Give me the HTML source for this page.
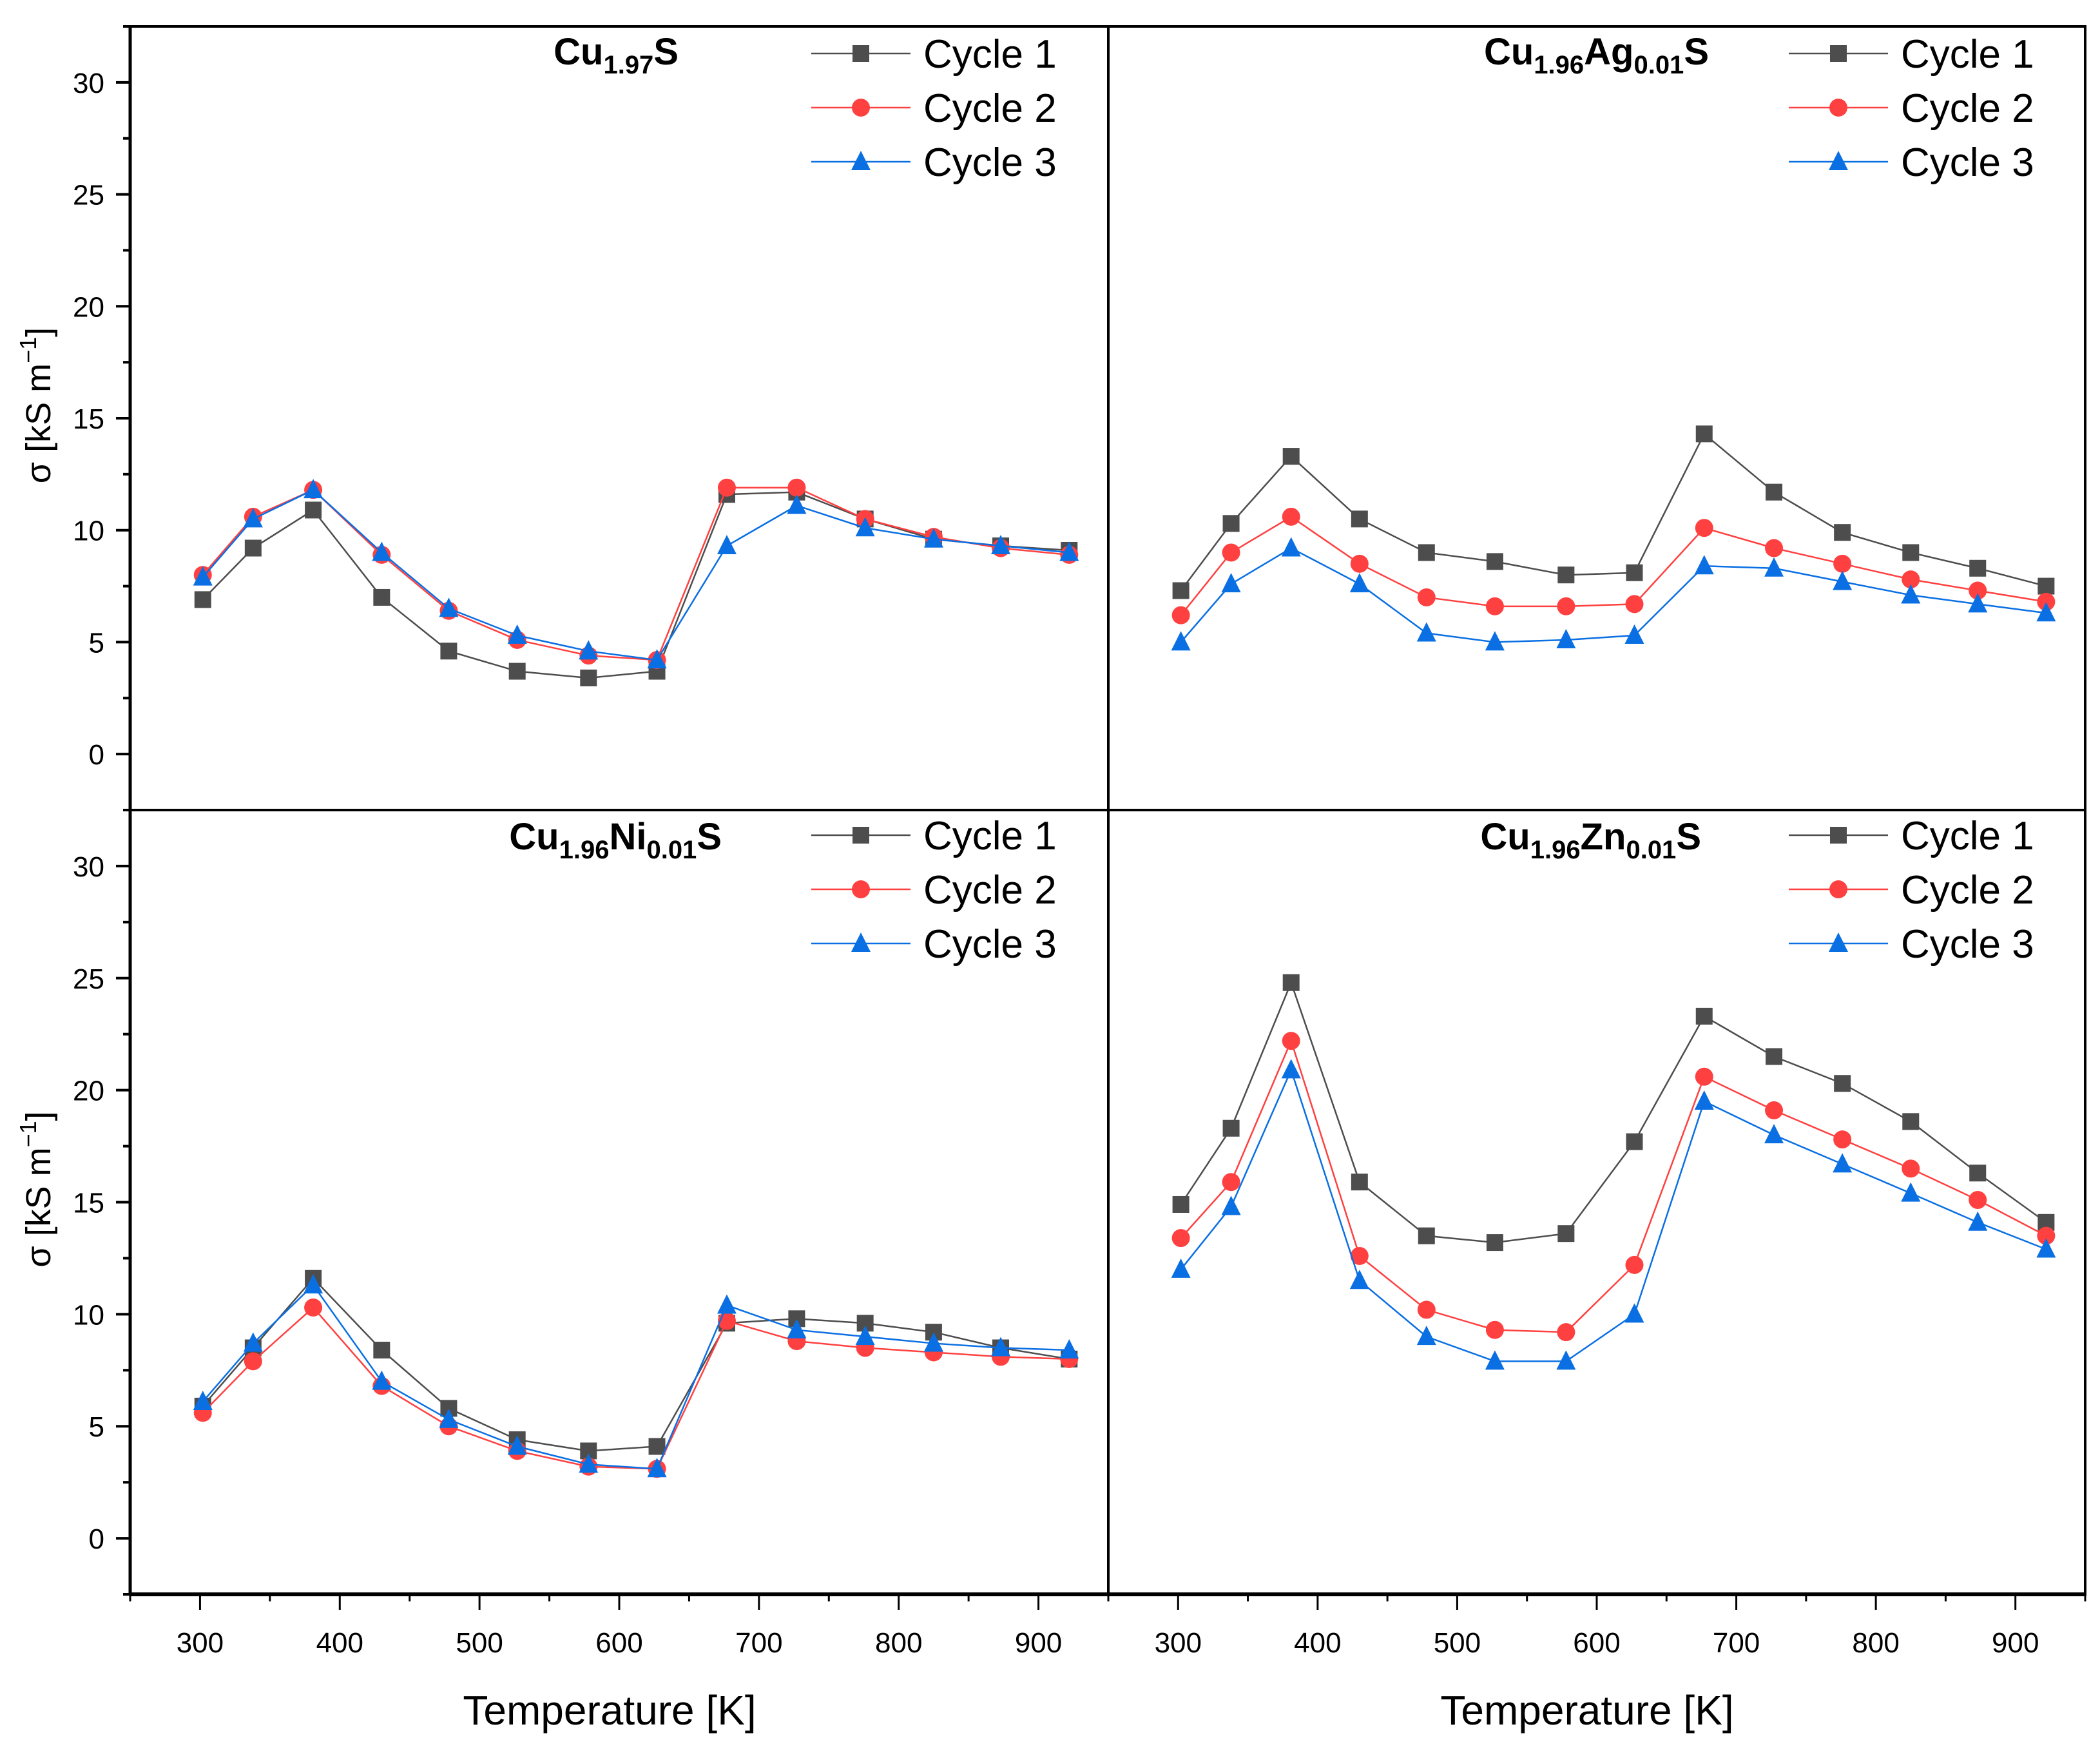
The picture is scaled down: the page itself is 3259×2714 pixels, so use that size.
<!DOCTYPE html>
<html><head><meta charset="utf-8"><style>
html,body{margin:0;padding:0;background:#fff;}
svg{display:block;font-family:"Liberation Sans",sans-serif;}
</style></head><body>
<svg id="chart" width="3259" height="2714" viewBox="0 0 3259 2714" xmlns="http://www.w3.org/2000/svg"></svg>
<script>
const temps = [302,338,381,430,478,527,578,627,677,727,776,825,873,922];
const cu_c1 = [6.9,9.2,10.9,7.0,4.6,3.7,3.4,3.7,11.6,11.7,10.5,9.6,9.3,9.1];
const cu_c2 = [8.0,10.6,11.8,8.9,6.4,5.1,4.4,4.2,11.9,11.9,10.5,9.7,9.2,8.9];
const cu_c3 = [7.9,10.5,11.8,9.0,6.5,5.3,4.6,4.2,9.3,11.1,10.1,9.6,9.3,9.0];
const ag_c1 = [7.3,10.3,13.3,10.5,9.0,8.6,8.0,8.1,14.3,11.7,9.9,9.0,8.3,7.5];
const ag_c2 = [6.2,9.0,10.6,8.5,7.0,6.6,6.6,6.7,10.1,9.2,8.5,7.8,7.3,6.8];
const ag_c3 = [5.0,7.6,9.2,7.6,5.4,5.0,5.1,5.3,8.4,8.3,7.7,7.1,6.7,6.3];
const ni_c1 = [5.9,8.5,11.6,8.4,5.8,4.4,3.9,4.1,9.6,9.8,9.6,9.2,8.5,8.0];
const ni_c2 = [5.6,7.9,10.3,6.8,5.0,3.9,3.2,3.1,9.7,8.8,8.5,8.3,8.1,8.0];
const ni_c3 = [6.1,8.7,11.3,7.0,5.3,4.1,3.3,3.1,10.4,9.3,9.0,8.7,8.5,8.4];
const zn_c1 = [14.9,18.3,24.8,15.9,13.5,13.2,13.6,17.7,23.3,21.5,20.3,18.6,16.3,14.1];
const zn_c2 = [13.4,15.9,22.2,12.6,10.2,9.3,9.2,12.2,20.6,19.1,17.8,16.5,15.1,13.5];
const zn_c3 = [12.0,14.8,20.9,11.5,9.0,7.9,7.9,10.0,19.5,18.0,16.7,15.4,14.1,12.9];
const xTicks = [300,400,500,600,700,800,900];
const yTicks = [0,5,10,15,20,25,30];
const seriesNames = ["Cycle 1","Cycle 2","Cycle 3"];

const svg = document.getElementById('chart');
const NS = "http://www.w3.org/2000/svg";
const COLORS = ["#4d4d4d","#ff4040","#0a6fe3"];
function mk(tag, attrs, parent){ const e=document.createElementNS(NS,tag); for(const k in attrs) e.setAttribute(k,attrs[k]); (parent||svg).appendChild(e); return e; }

const XMIN=250, XMAX=950, YMIN=-2.5, YMAX=32.5;
const panels = [
  {key:'cu', x0:202, x1:1720, y0:41, y1:1257, data:[cu_c1,cu_c2,cu_c3], yaxis:true, xaxis:false, lx:2, name:'cu197s'},
  {key:'ag', x0:1720, x1:3236, y0:41, y1:1257, data:[ag_c1,ag_c2,ag_c3], yaxis:false, xaxis:false, name:'cu196ag'},
  {key:'ni', x0:202, x1:1720, y0:1257, y1:2474, data:[ni_c1,ni_c2,ni_c3], yaxis:true, xaxis:true, name:'cu196ni'},
  {key:'zn', x0:1720, x1:3236, y0:1257, y1:2474, data:[zn_c1,zn_c2,zn_c3], yaxis:false, xaxis:true, name:'cu196zn'}
];
const titles = {
  cu: ['Cu',['1.97'],'S'],
  ag: ['Cu',['1.96'],'Ag',['0.01'],'S'],
  ni: ['Cu',['1.96'],'Ni',['0.01'],'S'],
  zn: ['Cu',['1.96'],'Zn',['0.01'],'S']
};

function marker(g, i, cx, cy, s){
  if(i===0){ const r=mk('rect',{x:cx-13*s,y:cy-13*s,width:26*s,height:26*s,fill:COLORS[0]},g); return r; }
  if(i===1){ return mk('circle',{cx:cx,cy:cy,r:14*s,fill:COLORS[1]},g); }
  return mk('polygon',{points:`${cx},${cy-17*s} ${cx-15*s},${cy+13*s} ${cx+15*s},${cy+13*s}`,fill:COLORS[2]},g);
}

panels.forEach(p=>{
  const sx = v => p.x0 + (v-XMIN)/(XMAX-XMIN)*(p.x1-p.x0);
  const sy = v => p.y1 - (v-YMIN)/(YMAX-YMIN)*(p.y1-p.y0);
  const g = mk('g',{});
  
  
  // series
  p.data.forEach((arr,si)=>{
    const sg = mk('g',{},g);
    
    
    const pts = arr.map((v,i)=>sx(temps[i])+','+sy(v)).join(' ');
    const ln = mk('polyline',{points:pts,fill:'none',stroke:COLORS[si],'stroke-width':2.5},sg);
    
    
    arr.forEach((v,i)=>{
      const m = marker(sg, si, sx(temps[i]), sy(v), 1);
      
      
    });
  });
  // title
  const t = titles[p.key];
  const tt = mk('text',{x:(p.key==='cu'?1053:p.key==='ag'?2652:p.key==='ni'?1120:2640),y:(p.y0===41?100:1318),'text-anchor':'end','font-size':58,'font-weight':'bold',fill:'#000'},g);
  
  
  t.forEach(part=>{
    const ts = document.createElementNS(NS,'tspan');
    if(Array.isArray(part)){ ts.textContent=part[0]; ts.setAttribute('font-size','40'); ts.setAttribute('dy','14'); }
    else { ts.textContent=part; ts.setAttribute('dy', tt.childNodes.length? '-14':'0'); }
    tt.appendChild(ts);
  });
  // legend
  const lg = mk('g',{},g);
  
  
  const lx0 = p.x0 + (p.key==='cu'||p.key==='ni' ? 1057 : 1056);
  const ly0 = p.y0 + (p.y0===41 ? 42 : 39);
  seriesNames.forEach((nm,i)=>{
    const y = ly0 + i*84;
    const e = mk('g',{},lg);
    
    
    mk('line',{x1:lx0,x2:lx0+154,y1:y,y2:y,stroke:COLORS[i],'stroke-width':2.5},e);
    marker(e,i,lx0+77,y,1);
    const tx = mk('text',{x:lx0+174,y:y+22,'font-size':62,fill:'#000'},e);
    tx.textContent = nm;
  });
  // frame
  const fr = mk('rect',{x:p.x0,y:p.y0,width:p.x1-p.x0,height:p.y1-p.y0,fill:'none',stroke:'#000','stroke-width':4},g);
  
  
  if(p.yaxis){
    const ya = mk('g',{},g);
    
    
    mk('line',{x1:p.x0,x2:p.x0,y1:p.y0,y2:p.y1,stroke:'#000','stroke-width':5},ya);
    for(let v=YMIN; v<=YMAX+0.01; v+=2.5){
      const major = yTicks.includes(v);
      mk('line',{x1:p.x0,x2:p.x0-(major?22:11),y1:sy(v),y2:sy(v),stroke:'#000','stroke-width':4},ya);
    }
    yTicks.forEach(v=>{
      const tl = mk('text',{x:p.x0-40,y:sy(v)+16,'text-anchor':'end','font-size':44,fill:'#000'},ya);
      tl.textContent = v;
    });
    const cy=(p.y0+p.y1)/2 - 20;
    const yt = mk('text',{x:0,y:0,transform:`translate(78,${cy}) rotate(-90)`,'text-anchor':'middle','font-size':54,fill:'#000'},ya);
    
    
    yt.innerHTML = 'σ  [kS m<tspan font-size="36" dy="-22">−1</tspan><tspan dy="22">]</tspan>';
  }
  if(p.xaxis){
    const xa = mk('g',{},g);
    
    
    mk('line',{x1:p.x0,x2:p.x1,y1:p.y1,y2:p.y1,stroke:'#000','stroke-width':6},xa);
    for(let v=XMIN; v<=XMAX; v+=50){
      const major = xTicks.includes(v);
      mk('line',{x1:sx(v),x2:sx(v),y1:p.y1,y2:p.y1+(major?24:11),stroke:'#000','stroke-width':3},xa);
    }
    xTicks.forEach(v=>{
      const tl = mk('text',{x:sx(v),y:p.y1+90,'text-anchor':'middle','font-size':44,fill:'#000'},xa);
      tl.textContent = v;
    });
    const xt = mk('text',{x:(p.x0+p.x1)/2-15,y:2676,'text-anchor':'middle','font-size':64,fill:'#000'},xa);
    
    
    xt.textContent = 'Temperature [K]';
  }
});
</script>
</body></html>
